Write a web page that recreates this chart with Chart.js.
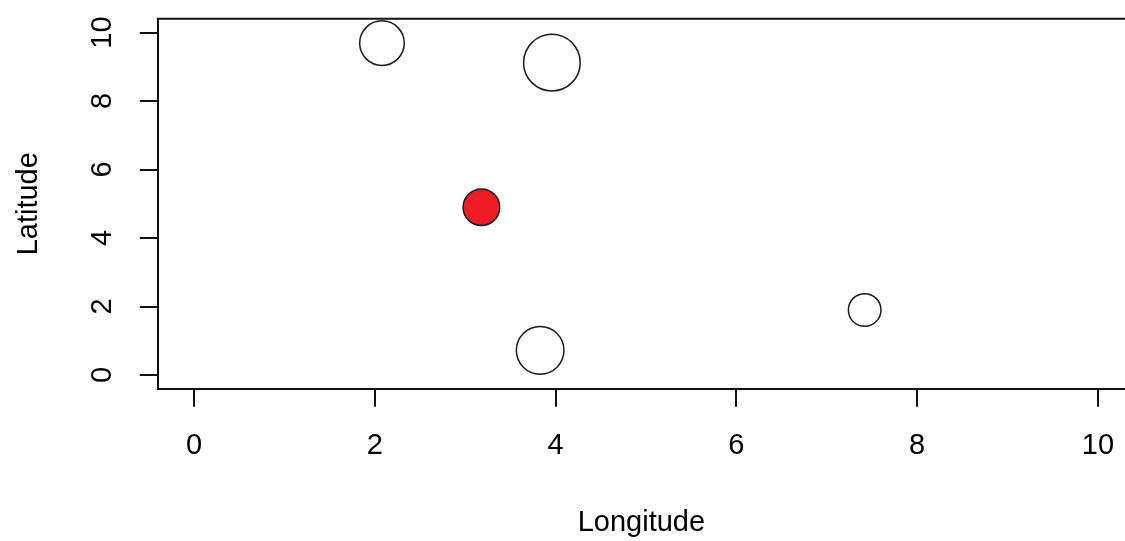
<!DOCTYPE html>
<html>
<head>
<meta charset="utf-8">
<script src="https://cdn.jsdelivr.net/npm/chart.js@4"></script>
<style>
  html, body { margin: 0; padding: 0; background: #fff; }
</style>
</head>
<body>
<canvas id="myChart" width="1125" height="541" style="width:1125px;height:541px;display:block"></canvas>
<script>
// bubble positions
const longitude = [2.08, 3.96, 3.18, 3.83, 7.42];
const latitude = [9.69, 9.12, 4.90, 0.72, 1.90];
const sizes = [22.3, 28.3, 18.3, 23.8, 16.3]; // bubble radius in px
const fills = ['#ffffff', '#ffffff', '#ee1c25', '#ffffff', '#ffffff'];
const xTicks = [0, 2, 4, 6, 8, 10];
const yTicks = [0, 2, 4, 6, 8, 10];

const points = longitude.map((x, i) => ({ x: x, y: latitude[i], r: sizes[i] }));

// R draws a full box, only the top side is missing here (right side is off the canvas)
const boxTop = {
    id: 'boxTop',
    afterDraw(chart) {
        const { ctx, chartArea } = chart;
        ctx.save();
        ctx.strokeStyle = '#111';
        ctx.lineWidth = 2;
        ctx.beginPath();
        ctx.moveTo(chartArea.left - 1, chartArea.top);
        ctx.lineTo(chart.width, chartArea.top);
        ctx.stroke();
        ctx.restore();
    }
};

Chart.defaults.font.family = "'Liberation Sans', Arial, sans-serif";
Chart.defaults.color = '#000';

const ctx = document.getElementById('myChart').getContext('2d');
const myChart = new Chart(ctx, {
    type: 'bubble',
    data: {
        datasets: [{
            data: points,
            backgroundColor: fills,
            borderColor: '#1a1a1a',
            borderWidth: 1.5
        }]
    },
    options: {
        responsive: false,
        animation: false,
        events: [],
        layout: { autoPadding: false, padding: { top: 18.8, left: 0, right: 0, bottom: 0 } },
        plugins: { legend: { display: false }, tooltip: { enabled: false } },
        scales: {
            x: {
                type: 'linear',
                min: -0.4,
                max: 10.3,
                afterBuildTicks: s => { s.ticks = xTicks.map(v => ({ value: v })); },
                afterFit: s => { s.height = 152.3; s.paddingLeft = 0; s.paddingRight = 0; },
                grid: { drawOnChartArea: false, drawTicks: true, tickLength: 18, color: '#111', lineWidth: 2 },
                border: { display: true, color: '#111', width: 2 },
                ticks: { font: { size: 29 }, padding: 22, maxRotation: 0 },
                title: { display: true, text: 'Longitude', font: { size: 29 }, padding: { top: 0, bottom: 1 } }
            },
            y: {
                type: 'linear',
                min: -0.4,
                max: 10.4,
                afterBuildTicks: s => { s.ticks = yTicks.map(v => ({ value: v })); },
                afterFit: s => { s.width = 157.8; s.paddingTop = 0; s.paddingBottom = 0; },
                grid: { drawOnChartArea: false, drawTicks: true, tickLength: 18, color: '#111', lineWidth: 2 },
                border: { display: true, color: '#111', width: 2 },
                ticks: { font: { size: 29 }, padding: 21, minRotation: 90, maxRotation: 90, crossAlign: 'center' },
                title: { display: true, text: 'Latitude', font: { size: 29 }, padding: { top: 12, bottom: 0 } }
            }
        }
    },
    plugins: [boxTop]
});
</script>
</body>
</html>
